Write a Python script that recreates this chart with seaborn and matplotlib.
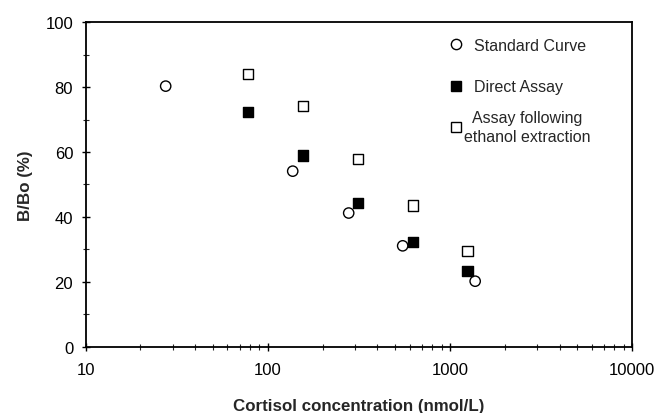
import matplotlib
matplotlib.use("Agg")
import matplotlib.pyplot as plt
import matplotlib.ticker as mticker
import numpy as np
import pandas as pd
import seaborn as sns

# Values
std_conc = [27.5, 137, 278, 550, 1375]
std_bbo = [80.3, 54.1, 41.2, 31.1, 20.2]

direct_conc = [78, 156, 312, 625, 1250]
direct_bbo = [72.3, 58.9, 44.3, 32.2, 23.4]

ethanol_conc = [78, 156, 312, 625, 1250]
ethanol_bbo = [84.0, 74.1, 57.8, 43.5, 29.4]

series_names = ["Standard Curve", "Direct Assay", "Assay following ethanol extraction"]
legend_labels = ["Standard Curve", "Direct Assay", "Assay following\nethanol extraction"]

df = pd.concat(
    [
        pd.DataFrame({"conc": std_conc, "bbo": std_bbo, "series": series_names[0]}),
        pd.DataFrame({"conc": direct_conc, "bbo": direct_bbo, "series": series_names[1]}),
        pd.DataFrame({"conc": ethanol_conc, "bbo": ethanol_bbo, "series": series_names[2]}),
    ],
    ignore_index=True,
)

sns.set_style("ticks")
plt.rcParams["font.family"] = ["Liberation Sans", "DejaVu Sans"]

fig = plt.figure(figsize=(6.64, 4.14), dpi=100)
ax = fig.add_axes([0.129, 0.160, 0.823, 0.784])

palette = {series_names[0]: "white", series_names[1]: "black", series_names[2]: "white"}
markers = {series_names[0]: "o", series_names[1]: "s", series_names[2]: "s"}

sns.scatterplot(
    data=df,
    x="conc",
    y="bbo",
    hue="series",
    style="series",
    palette=palette,
    markers=markers,
    edgecolor="black",
    linewidth=1.0,
    s=55,
    ax=ax,
)

ax.set_xscale("log")
ax.set_xlim(10, 10000)
ax.set_ylim(0, 100)
ax.xaxis.set_major_locator(mticker.FixedLocator([10, 100, 1000, 10000]))
ax.xaxis.set_major_formatter(mticker.FuncFormatter(lambda v, p: f"{int(v)}"))
ax.xaxis.set_minor_locator(mticker.LogLocator(base=10, subs=np.arange(2, 10)))
ax.xaxis.set_minor_formatter(mticker.NullFormatter())
ax.yaxis.set_major_locator(mticker.MultipleLocator(20))
ax.yaxis.set_minor_locator(mticker.MultipleLocator(10))

ax.tick_params(axis="both", which="major", direction="inout", length=6, width=1,
               labelsize=12, colors="black")
ax.tick_params(axis="both", which="minor", direction="inout", length=4, width=0.8)
ax.tick_params(axis="x", which="major", pad=8)
ax.tick_params(axis="y", which="major", pad=6)

for sp in ax.spines.values():
    sp.set_visible(True)
    sp.set_color("black")
    sp.set_linewidth(1.3)

ax.set_xlabel("Cortisol concentration (nmol/L)", fontsize=12.2, fontweight="bold", labelpad=15)
ax.set_ylabel("B/Bo (%)", fontsize=12.2, fontweight="bold", labelpad=9)

# legend: two single-line entries, then the two-line entry with centred text
handles, _ = ax.get_legend_handles_labels()
handles = handles[-3:]
leg1 = ax.legend(
    handles[:2], legend_labels[:2],
    loc="center left", bbox_to_anchor=(0.663, 0.865),
    frameon=False, fontsize=11.5, labelspacing=1.65,
    handlelength=1.0, handletextpad=0.6, borderpad=0, borderaxespad=0,
)
ax.add_artist(leg1)
leg2 = ax.legend(
    handles[2:], legend_labels[2:],
    loc="center left", bbox_to_anchor=(0.663, 0.678),
    frameon=False, fontsize=11.5,
    handlelength=1.0, handletextpad=0.0, borderpad=0, borderaxespad=0,
)
for t in leg2.get_texts():
    t.set_multialignment("center")
    t.set_linespacing(1.35)

fig.savefig("out.png", dpi=100)
